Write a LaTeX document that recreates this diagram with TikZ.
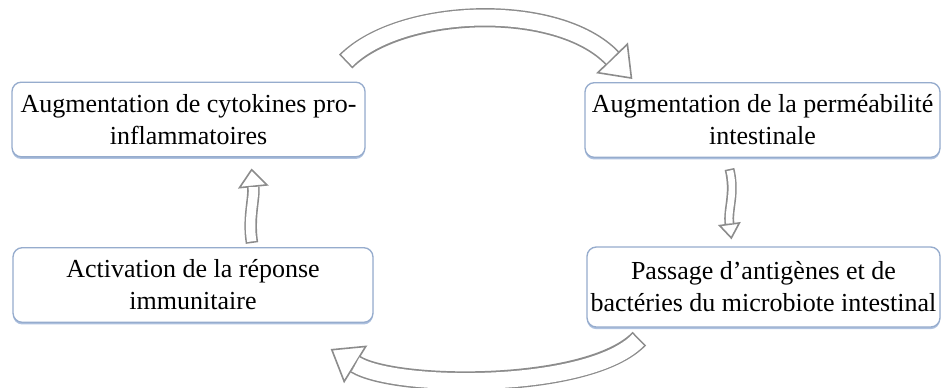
\documentclass[tikz,border=0pt]{standalone}
\usepackage{fontspec}
\setmainfont{Liberation Serif}
\usetikzlibrary{arrows.meta,calc,shadows}
\definecolor{boxline}{RGB}{150,172,205}
\definecolor{boxshade}{RGB}{110,145,200}
\definecolor{arrowline}{RGB}{140,140,140}

\begin{document}
\begin{tikzpicture}[
  x=0.75pt, y=-0.75pt,
  font=\fontsize{19.5}{24}\selectfont,
  box/.style={draw=boxline,line width=1pt,rounded corners=7pt,fill=white,align=center,inner sep=0pt,
    minimum width=265pt,minimum height=56pt,
    drop shadow={shadow xshift=0pt,shadow yshift=-1.6pt,fill=boxshade,opacity=.55}},
  bigout/.style={draw=arrowline,line width=14.4pt,-{Triangle[length=22pt,width=33pt,line width=1.2pt,fill=white]}},
  bigin/.style={draw=white,line width=12pt,shorten <=1.2pt,shorten >=22pt},
  midout/.style={draw=arrowline,line width=9.4pt,-{Triangle[length=14pt,width=23pt,line width=1.2pt,fill=white]}},
  midin/.style={draw=white,line width=7pt,shorten <=1.2pt,shorten >=14pt},
  thinout/.style={draw=arrowline,line width=7.4pt,-{Triangle[length=12pt,width=17pt,line width=1.2pt,fill=white]}},
  thinin/.style={draw=white,line width=5pt,shorten <=1.2pt,shorten >=12pt}
]
\path[use as bounding box,fill=white] (0,0) rectangle (942,387);

\node[box,minimum width=264.75pt] (infl) at (188.5,119.5) {Augmentation de cytokines pro-\\inflammatoires};
\node[box,minimum width=266.25pt] (perm) at (762.5,120) {Augmentation de la perméabilité\\intestinale};
\node[box,minimum width=270pt] (immu) at (193,285) {Activation de la réponse\\immunitaire};
\node[box,minimum width=264.75pt,minimum height=60pt] (pass) at (763.5,287) {Passage d'antigènes et de\\bactéries du microbiote intestinal};

% free ends of the block arrows
\coordinate (topstart) at ($(infl.north east)+(-20,-20)$);
\coordinate (topend) at ($(perm.north west)+(48,-3)$);
\coordinate (botstart) at ($(pass.south west)+(53,11)$);
\coordinate (botend) at ($(immu.south east)+(-43,26)$);
\coordinate (rstart) at ($(perm.south)+(-33,11)$);
\coordinate (rend) at ($(pass.north)+(-32,-7)$);
\coordinate (lstart) at ($(immu.north)+(59,-4)$);
\coordinate (lend) at ($(infl.south)+(63,11)$);

\draw[bigout] (topstart) .. controls +(55,-55) and +(-75,-78) .. (topend);
\draw[bigin] (topstart) .. controls +(55,-55) and +(-75,-78) .. (topend);
\draw[bigout] (botstart) .. controls +(-50,52) and +(65,40) .. (botend);
\draw[bigin] (botstart) .. controls +(-50,52) and +(65,40) .. (botend);

\draw[thinout] (rstart) .. controls +(6,25) and +(-4,-30) .. (rend);
\draw[thinin] (rstart) .. controls +(6,25) and +(-4,-30) .. (rend);
\draw[midout] (lstart) .. controls +(-4,-25) and +(3,30) .. (lend);
\draw[midin] (lstart) .. controls +(-4,-25) and +(3,30) .. (lend);
\end{tikzpicture}
\end{document}
